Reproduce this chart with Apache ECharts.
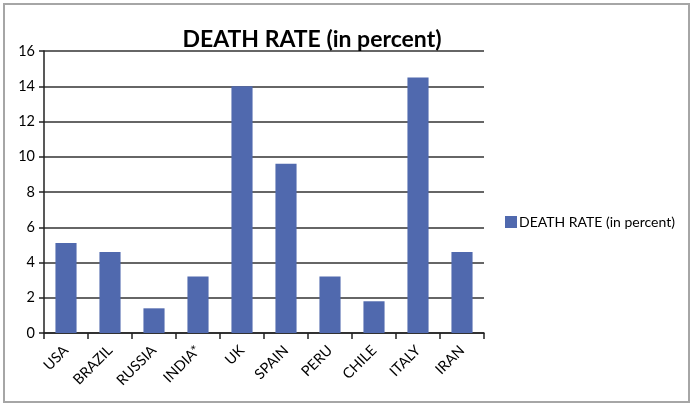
<!DOCTYPE html>
<html><head><meta charset="utf-8">
<script src="https://cdn.jsdelivr.net/npm/echarts@6/dist/echarts.min.js"></script>
<style>html,body{margin:0;padding:0;background:#fff}#c{width:694px;height:410px}</style>
</head><body><div id="c"></div>
<script>
const categories = ['USA','BRAZIL','RUSSIA','INDIA*','UK','SPAIN','PERU','CHILE','ITALY','IRAN'];
const deathRate = [5.1, 4.6, 1.4, 3.2, 14.0, 9.6, 3.2, 1.8, 14.5, 4.6];
const seriesName = 'DEATH RATE (in percent)';
const titleText = 'DEATH RATE (in percent)';

const chart = echarts.init(document.getElementById('c'), null, {renderer:'canvas'});
const font = 'Lato, "Open Sans", sans-serif';
chart.setOption({
  animation: false,
  backgroundColor: '#fff',
  graphic: [{type:'rect', shape:{x:4, y:4, width:685, height:398}, style:{fill:'none', stroke:'#a6a6a6', lineWidth:2}, silent:true}],
  title: {text: titleText, left: 307, top: 23, textAlign:'center',
    textStyle:{fontFamily:font, fontWeight:'bold', fontSize:23, color:'#000'}},
  legend: {data:[seriesName], left: 500, top: 210, itemWidth: 12, itemHeight: 12, itemGap: 4,
    icon:'rect', textStyle:{fontFamily:font, fontSize:14, color:'#000', padding:[0,0,0,-3]}},
  grid: {left:44, right:210, top:51, bottom:77, containLabel:false},
  xAxis: {type:'category', data:categories, boundaryGap:true,
    axisLine:{lineStyle:{color:'#222', width:1.5}},
    axisTick:{show:true, length:6, inside:false, lineStyle:{color:'#222', width:1.5}},
    axisLabel:{rotate:45, fontFamily:font, fontSize:14.5, color:'#000', margin:15, interval:0}},
  yAxis: {type:'value', min:0, max:16, interval:2,
    axisLine:{show:true, lineStyle:{color:'#222', width:1.5}},
    axisTick:{show:true, length:5, lineStyle:{color:'#222', width:1.5}},
    splitLine:{lineStyle:{color:'#333', width:1.5}},
    axisLabel:{fontFamily:font, fontSize:14.5, color:'#000', margin:9}},
  series: [{name:seriesName, type:'bar', data:deathRate, barWidth:'48%',
    itemStyle:{color:'#5069ae'}}]
});
</script></body></html>
